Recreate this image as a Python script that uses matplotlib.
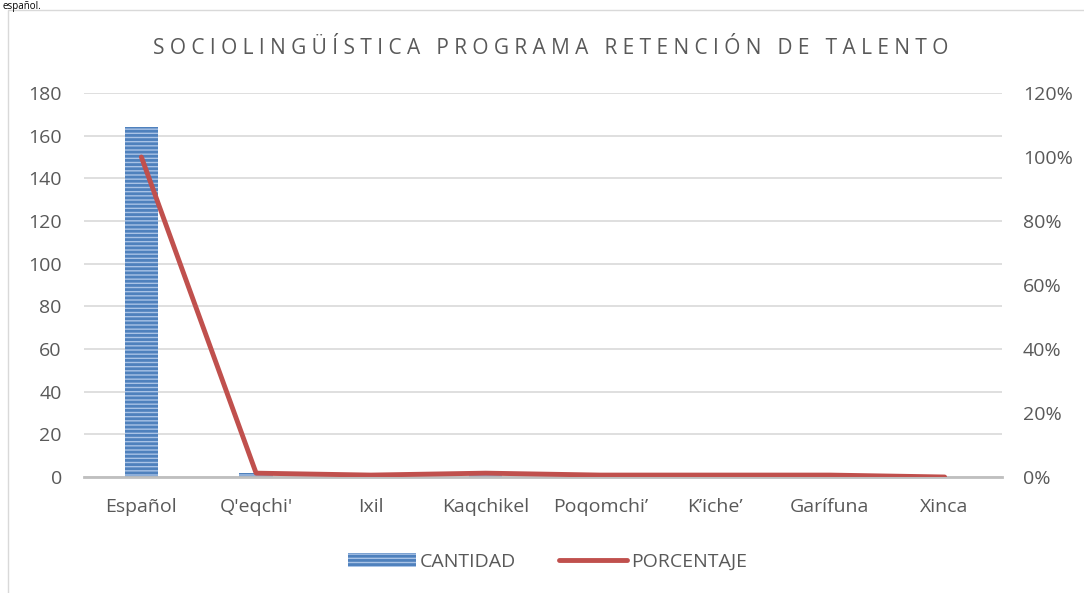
import matplotlib
matplotlib.use('Agg')
import matplotlib.pyplot as plt
from matplotlib.patches import Rectangle
from matplotlib.ticker import FuncFormatter

# Data
idiomas = ["Español", "Q'eqchi'", "Ixil", "Kaqchikel", "Poqomchi’", "K’iche’", "Garífuna", "Xinca"]
cantidad = [164, 2, 1, 2, 1, 1, 1, 0]
porcentaje = [1.00, 0.012, 0.006, 0.012, 0.006, 0.006, 0.006, 0.0]

plt.rcParams['font.family'] = ['Open Sans', 'DejaVu Sans']
plt.rcParams['hatch.linewidth'] = 2.0
plt.rcParams['hatch.color'] = '#4F81BD'

txt = '#595959'
fig = plt.figure(figsize=(10.84, 5.93), dpi=100)

# outer chart frame
fig.patches.append(Rectangle((8 / 1084, -0.1), 1.2, 1 - 10 / 593 + 0.1,
                             transform=fig.transFigure, fill=False,
                             edgecolor='#D9D9D9', linewidth=1.0))
fig.text(0.002, 1 - 1 / 593, 'español.', fontsize=7, color='black', va='top', ha='left')

ax = fig.add_axes([84 / 1084, 1 - 477 / 593, (1002 - 84) / 1084, (477 - 93) / 593])
x = list(range(len(idiomas)))

ax.bar(x, cantidad, width=0.29, color='#A9C3E6', edgecolor='#4F81BD', hatch='----',
       linewidth=0, zorder=2, label='CANTIDAD')
ax.set_ylim(0, 180)
ax.set_yticks(range(0, 181, 20))
ax.set_xlim(-0.5, len(idiomas) - 0.5)
ax.set_xticks(x)
ax.set_xticklabels(idiomas)
ax.grid(axis='y', color='#D9D9D9', linewidth=1.2, zorder=0)
ax.set_axisbelow(True)
for s in ['top', 'right', 'left']:
    ax.spines[s].set_visible(False)
ax.spines['bottom'].set_color('#BFBFBF')
ax.spines['bottom'].set_linewidth(2.0)
ax.tick_params(axis='both', length=0, labelsize=14, colors=txt)
ax.tick_params(axis='x', pad=15)
ax.tick_params(axis='y', pad=16)

ax2 = ax.twinx()
ax2.plot(x, porcentaje, color='#C0504D', linewidth=3.5, solid_capstyle='round',
         zorder=3, label='PORCENTAJE')
ax2.set_ylim(0, 1.2)
ax2.set_yticks([i / 5 for i in range(7)])
ax2.yaxis.set_major_formatter(FuncFormatter(lambda v, p: f'{v * 100:.0f}%'))
for s in ax2.spines.values():
    s.set_visible(False)
ax2.tick_params(axis='y', length=0, labelsize=14, colors=txt, pad=15)

titulo = "SOCIOLINGÜÍSTICA PROGRAMA RETENCIÓN DE TALENTO"
spaced = '   '.join(' '.join(w) for w in titulo.split(' '))
fig.text(0.508, 1 - 48 / 593, spaced, ha='center', va='center', fontsize=15, color=txt)

h1, l1 = ax.get_legend_handles_labels()
h2, l2 = ax2.get_legend_handles_labels()
fig.legend(h1 + h2, l1 + l2, loc='center', bbox_to_anchor=(0.505, 1 - 562 / 593), ncol=2,
           frameon=False, fontsize=14, labelcolor=txt, handlelength=3.5,
           handletextpad=0.2, columnspacing=2.2)

fig.savefig('out.png', dpi=100)
